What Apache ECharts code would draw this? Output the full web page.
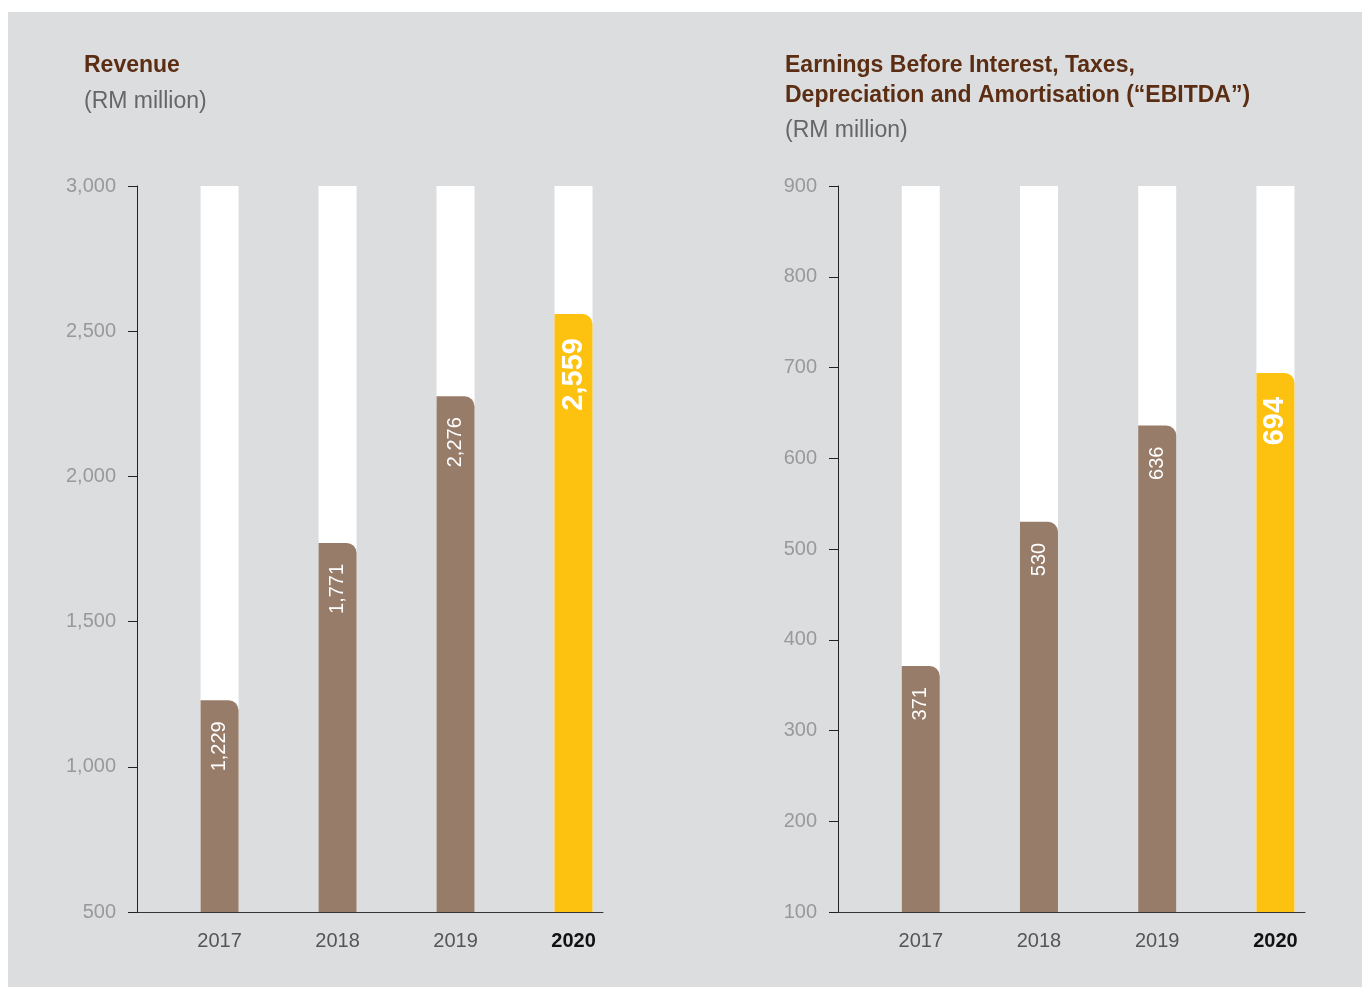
<!DOCTYPE html>
<html>
<head>
<meta charset="utf-8">
<script src="https://cdn.jsdelivr.net/npm/echarts@6/dist/echarts.min.js"></script>
<style>
  html, body { margin: 0; padding: 0; background: #ffffff; }
  #panel { position: absolute; left: 8px; top: 12px; width: 1354px; height: 975px; background: #dcdddf; }
  #chart { position: absolute; left: 0; top: 0; width: 1362px; height: 987px; }
</style>
</head>
<body>
<div id="panel"></div>
<div id="chart"></div>
<script>
// Financial years shown on both panels
const years = ['2017', '2018', '2019', '2020'];
// Revenue, RM million
const revenue = [1229, 1771, 2276, 2559];
// EBITDA, RM million
const ebitda = [371, 530, 636, 694];
// Axis ranges
const revenueAxis = { min: 500, max: 3000, interval: 500 };
const ebitdaAxis = { min: 100, max: 900, interval: 100 };

const BROWN = '#977c6a';
const GOLD = '#fdc110';
const FONT = '"Liberation Sans", Arial, Helvetica, sans-serif';
const latest = years.length - 1;

function barData(values) {
  return values.map((v, i) => ({
    value: [i, v],
    itemStyle: { color: i === latest ? GOLD : BROWN },
    label: i === latest
      ? { fontSize: 29, fontWeight: 'bold', distance: 24 }
      : { fontSize: 20, fontWeight: 'normal', distance: 21 }
  }));
}

function xAxisFor(gridIndex) {
  return {
    type: 'value', gridIndex, min: -0.7, max: 3.25,
    splitLine: { show: false },
    axisTick: { show: false },
    axisLine: { show: true, onZero: false, lineStyle: { color: '#333', width: 1 } },
    axisLabel: {
      customValues: years.map((_, i) => i),
      margin: 19,
      fontFamily: FONT,
      formatter: v => v === latest ? '{b|' + years[v] + '}' : '{n|' + years[v] + '}',
      rich: {
        n: { fontSize: 20, color: '#555', fontFamily: FONT },
        b: { fontSize: 20, color: '#111', fontWeight: 'bold', fontFamily: FONT }
      }
    }
  };
}

function yAxisFor(gridIndex, range) {
  return {
    type: 'value', gridIndex, min: range.min, max: range.max, interval: range.interval,
    splitLine: { show: false },
    axisLine: { show: true, onZero: false, lineStyle: { color: '#222', width: 1 } },
    axisTick: { show: true, inside: false, length: 9, lineStyle: { color: '#222' } },
    axisLabel: {
      margin: 21, fontSize: 20, color: '#999', fontFamily: FONT,
      padding: [4, 0, 0, 0],
      formatter: v => v.toLocaleString('en-US')
    }
  };
}

function barSeries(idx, values) {
  return {
    type: 'bar', xAxisIndex: idx, yAxisIndex: idx,
    barWidth: 38,
    showBackground: true,
    backgroundStyle: { color: '#ffffff' },
    itemStyle: { borderRadius: [0, 10, 0, 0] },
    label: {
      show: true, position: 'insideTop', rotate: 90,
      align: 'right', verticalAlign: 'middle',
      color: '#ffffff', fontFamily: FONT,
      formatter: p => p.value[1].toLocaleString('en-US')
    },
    data: barData(values)
  };
}

const titleText = { color: '#5b2e14', fontSize: 23, fontWeight: 'bold', fontFamily: FONT, lineHeight: 30 };
const subText = { color: '#666', fontSize: 23, fontFamily: FONT, lineHeight: 26 };

const chart = echarts.init(document.getElementById('chart'), null, { renderer: 'canvas' });
chart.setOption({
  backgroundColor: 'transparent',
  animation: false,
  title: [
    { text: 'Revenue', subtext: '(RM million)', left: 84, top: 51, padding: 0, itemGap: 8,
      textStyle: titleText, subtextStyle: subText },
    { text: 'Earnings Before Interest, Taxes,\nDepreciation and Amortisation (“EBITDA”)',
      subtext: '(RM million)', left: 785, top: 51, padding: 0, itemGap: 7,
      textStyle: titleText, subtextStyle: subText }
  ],
  grid: [
    { left: 137, top: 186, width: 466, height: 726 },
    { left: 838, top: 186, width: 467, height: 726 }
  ],
  xAxis: [xAxisFor(0), xAxisFor(1)],
  yAxis: [yAxisFor(0, revenueAxis), yAxisFor(1, ebitdaAxis)],
  series: [barSeries(0, revenue), barSeries(1, ebitda)]
});
</script>
</body>
</html>
